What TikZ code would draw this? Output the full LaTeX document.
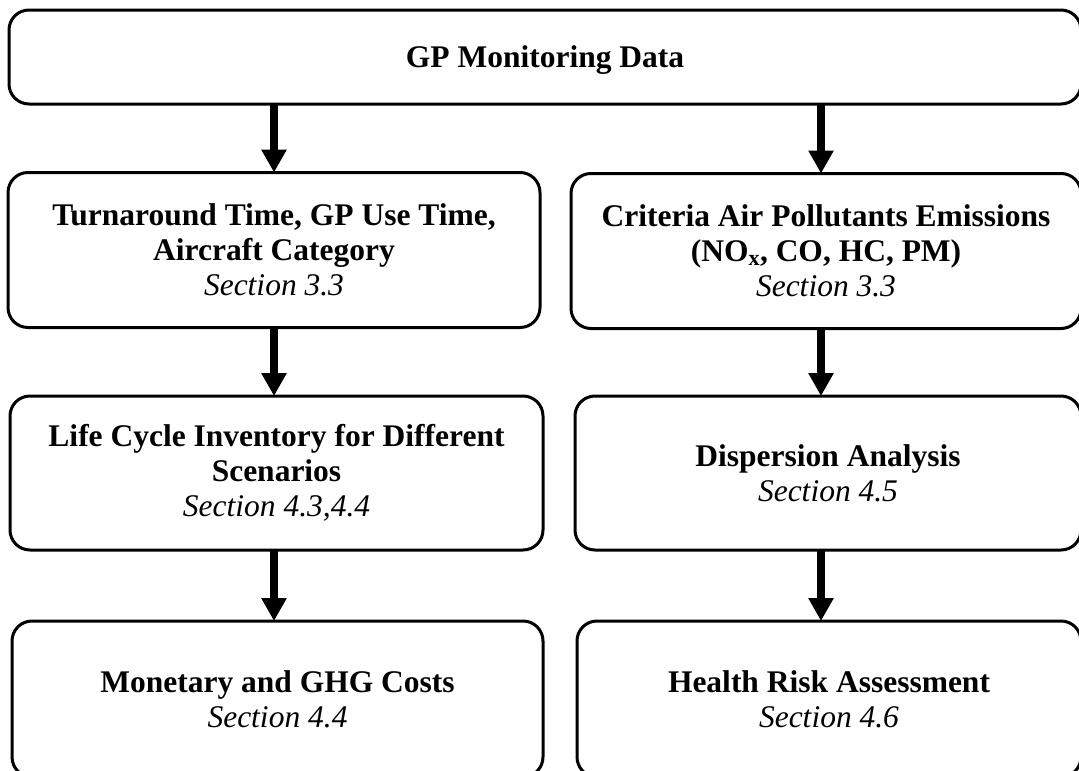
\documentclass[tikz,border=0pt]{standalone}
\usepackage{fontspec}
\setmainfont{Liberation Serif}
\usetikzlibrary{arrows.meta}
\tikzset{
  box/.style={draw=black, line width=3pt, rounded corners=20pt, rectangle,
    align=center, inner sep=0pt, outer sep=0pt,
    font=\fontsize{31.5}{35}\selectfont\bfseries},
  arr/.style={line width=8pt, -{Triangle[width=24pt,length=23pt]}, black}
}
\newcommand{\sect}[1]{{\normalfont\itshape #1}}
\begin{document}
\begin{tikzpicture}[x=1pt,y=-1pt]
\useasboundingbox (0,0) rectangle (1079,771);
\clip (0,0) rectangle (1079,771);
\node[box, minimum width=1072pt, minimum height=94pt, text depth=-3pt] (top) at (545,57) {GP Monitoring Data};
\node[box, minimum width=532pt, minimum height=155pt] (L2) at (274,250)
  {Turnaround Time, GP Use Time,\\Aircraft Category\\\sect{Section 3.3}};
\node[box, minimum width=510pt, minimum height=155pt] (R2) at (826,251)
  {Criteria Air Pollutants Emissions\\(NO\textsubscript{x}, CO, HC, PM)\\\sect{Section 3.3}};
\node[box, minimum width=533pt, minimum height=154pt] (L3) at (276.5,473)
  {Life Cycle Inventory for Different\\Scenarios\\\sect{Section 4.3,4.4}};
\node[box, minimum width=506pt, minimum height=154pt] (R3) at (828,473)
  {Dispersion Analysis\\\sect{Section 4.5}};
\node[box, minimum width=531pt, minimum height=156pt] (L4) at (277.5,699)
  {Monetary and GHG Costs\\\sect{Section 4.4}};
\node[box, minimum width=504pt, minimum height=156pt] (R4) at (829,699)
  {Health Risk Assessment\\\sect{Section 4.6}};
\coordinate (lx) at (274,0);
\coordinate (rx) at (821,0);
\draw[arr] (top.south -| lx) -- (L2.north -| lx);
\draw[arr] (top.south -| rx) -- (R2.north -| rx);
\draw[arr] (L2.south -| lx) -- (L3.north -| lx);
\draw[arr] (R2.south -| rx) -- (R3.north -| rx);
\draw[arr] (L3.south -| lx) -- (L4.north -| lx);
\draw[arr] (R3.south -| rx) -- (R4.north -| rx);
\end{tikzpicture}
\end{document}
